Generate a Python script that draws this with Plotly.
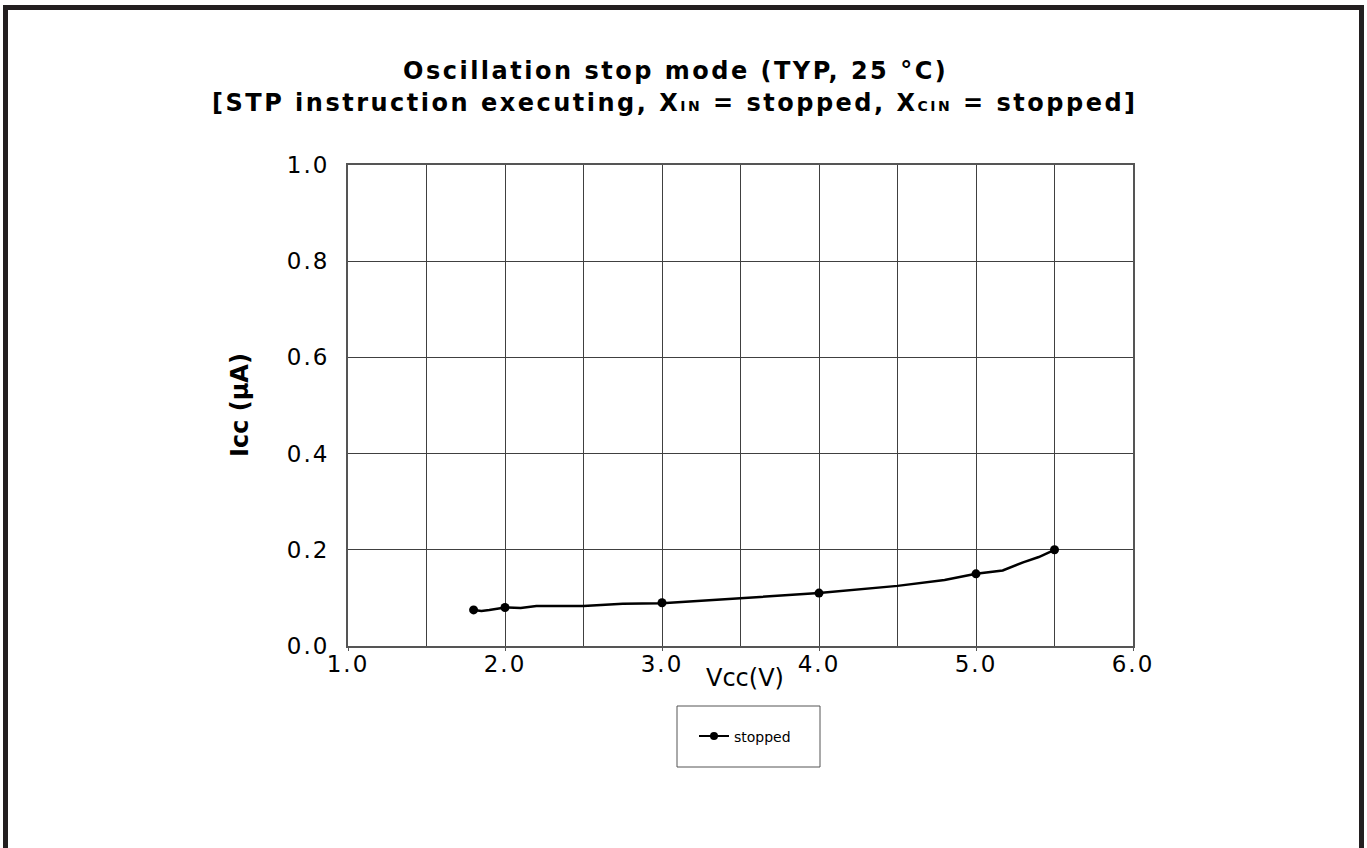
import plotly.graph_objects as go

# ---- data ----
line_v = [1.8, 1.85, 1.9, 2.0, 2.1, 2.2, 2.5, 2.75, 3.0, 3.5, 4.0, 4.5, 4.8, 5.0, 5.17, 5.3, 5.4, 5.5]
line_i = [0.075, 0.073, 0.075, 0.080, 0.079, 0.083, 0.083, 0.088, 0.089, 0.099, 0.110, 0.125, 0.137, 0.150, 0.157, 0.174, 0.185, 0.200]
mark_v = [1.8, 2.0, 3.0, 4.0, 5.0, 5.5]
mark_i = [0.075, 0.080, 0.090, 0.110, 0.150, 0.200]
x_ticks = [1.0, 2.0, 3.0, 4.0, 5.0, 6.0]
x_labels = ["1.0", "2.0", "3.0", "4.0", "5.0", "6.0"]
y_ticks = [0.0, 0.2, 0.4, 0.6, 0.8, 1.0]
y_labels = ["0.0", "0.2", "0.4", "0.6", "0.8", "1.0"]
series_name = "stopped"
title_1 = "Oscillation stop mode (TYP, 25 °C)"
title_2 = ("[STP instruction executing, X<span style='font-size:14px'>IN</span> = stopped, "
           "X<span style='font-size:14px'>CIN</span> = stopped]")

W, H = 1367, 848
L, R, T, B = 348, 1133, 165, 646

def px(p):
    return (p - L) / (R - L)

def py(p):
    return (B - p) / (B - T)

def spaced(s, ls):
    return "<span style='letter-spacing:%spx'>%s</span>" % (ls, s)

FONT = "DejaVu Sans, Verdana, sans-serif"

fig = go.Figure()
fig.add_trace(go.Scatter(x=line_v, y=line_i, mode="lines",
                         line=dict(color="black", width=2.5), showlegend=False, hoverinfo="skip"))
fig.add_trace(go.Scatter(x=mark_v, y=mark_i, mode="markers",
                         marker=dict(color="black", size=9), showlegend=False))
fig.add_trace(go.Scatter(x=[None], y=[None], mode="lines+markers", name=series_name,
                         line=dict(color="black", width=2), marker=dict(color="black", size=8)))

grid_col = "#404040"
fig.update_xaxes(range=[1, 6], tickvals=x_ticks, ticktext=[spaced(t, 2) for t in x_labels],
                 showgrid=True, gridcolor=grid_col, gridwidth=1,
                 minor=dict(dtick=0.5, showgrid=True, gridcolor=grid_col, gridwidth=1),
                 showline=True, mirror=True, linecolor="#555555", linewidth=2,
                 zeroline=False, tickfont=dict(family=FONT, size=23, color="black"),
                 ticks="outside", ticklen=3, tickcolor="#555555", ticklabelstandoff=-7)
fig.update_yaxes(range=[0, 1], tickvals=y_ticks, ticktext=[spaced(t, 2) for t in y_labels],
                 showgrid=True, gridcolor=grid_col, gridwidth=1,
                 showline=True, mirror=True, linecolor="#555555", linewidth=2,
                 zeroline=False, tickfont=dict(family=FONT, size=23, color="black"),
                 ticks="", ticklabelstandoff=12)

annotations = [
    dict(text=spaced(title_1, 2.5), x=px(675), y=py(71), xref="paper", yref="paper",
         showarrow=False, xanchor="center", yanchor="middle",
         font=dict(family=FONT, size=24, color="black", weight="bold")),
    dict(text=spaced(title_2, 2.5), x=px(675), y=py(103), xref="paper", yref="paper",
         showarrow=False, xanchor="center", yanchor="middle",
         font=dict(family=FONT, size=24, color="black", weight="bold")),
    dict(text="Vcc(V)", x=px(745), y=py(678), xref="paper", yref="paper",
         showarrow=False, xanchor="center", yanchor="middle",
         font=dict(family=FONT, size=24, color="black")),
    dict(text="Icc (µA)", x=px(240), y=py(405), xref="paper", yref="paper", textangle=-90,
         showarrow=False, xanchor="center", yanchor="middle",
         font=dict(family=FONT, size=24, color="black", weight="bold")),
]

shapes = [
    dict(type="rect", xref="paper", yref="paper",
         x0=px(5.5), y0=py(7.5), x1=px(1361.5), y1=py(900),
         line=dict(color="#231f20", width=5)),
    dict(type="rect", xref="paper", yref="paper",
         x0=px(677), y0=py(706), x1=px(820), y1=py(767),
         line=dict(color="#555555", width=1)),
]

fig.update_layout(
    width=W, height=H,
    margin=dict(l=L, r=W - R, t=T, b=H - B, autoexpand=False),
    paper_bgcolor="white", plot_bgcolor="white",
    annotations=annotations, shapes=shapes,
    showlegend=True,
    legend=dict(x=px(745), y=py(736.5), xanchor="center", yanchor="middle",
                bgcolor="rgba(0,0,0,0)", borderwidth=0,
                font=dict(family=FONT, size=14, color="black")),
)

fig.write_html("out.html", config={"displayModeBar": False},
               post_script="document.body.style.margin='0';")
